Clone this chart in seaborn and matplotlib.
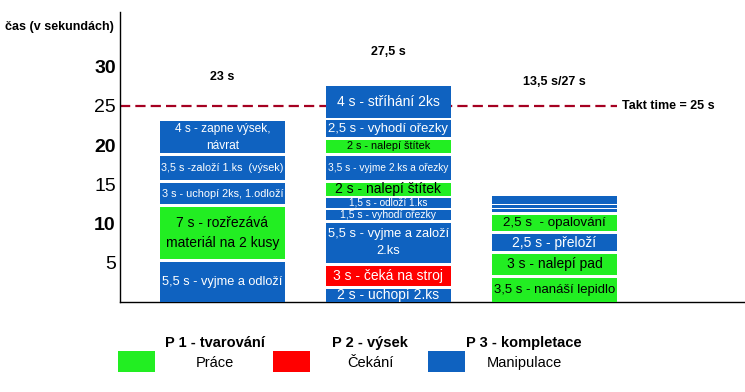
import seaborn as sns
import matplotlib.pyplot as plt
from matplotlib.patches import Rectangle

sns.set_theme(style='white')
plt.rcParams['font.family'] = ['Liberation Sans', 'DejaVu Sans']

# --- data ---
processes = ['P 1 - tvarování', 'P 2 - výsek', 'P 3 - kompletace']
totals = ['23 s', '27,5 s', '13,5 s/27 s']
takt_time = 25
kinds = ['Práce', 'Čekání', 'Manipulace']
y_ticks = [5, 10, 15, 20, 25, 30]

# blocks listed bottom -> top
p1_times = [5.5, 7, 3, 3.5, 4]
p1_kinds = ['Manipulace', 'Práce', 'Manipulace', 'Manipulace', 'Manipulace']
p1_labels = ['5,5 s - vyjme a odloží', '7 s - rozřezává\nmateriál na 2 kusy',
             '3 s - uchopí 2ks, 1.odloží', '3,5 s -založí 1.ks  (výsek)',
             '4 s - zapne výsek,\nnávrat']

p2_times = [2, 3, 5.5, 1.5, 1.5, 2, 3.5, 2, 2.5, 4]
p2_kinds = ['Manipulace', 'Čekání', 'Manipulace', 'Manipulace', 'Manipulace',
            'Práce', 'Manipulace', 'Práce', 'Manipulace', 'Manipulace']
p2_labels = ['2 s - uchopí 2.ks', '3 s - čeká na stroj', '5,5 s - vyjme a založí\n2.ks',
             '1,5 s - vyhodí ořezky', '1,5 s - odloží 1.ks', '2 s - nalepí štítek',
             '3,5 s - vyjme 2.ks a ořezky', '2 s - nalepí štítek', '2,5 s - vyhodí ořezky',
             '4 s - stříhání 2ks']

p3_times = [3.5, 3, 2.5, 2.5, 0.5, 0.5, 1]
p3_kinds = ['Práce', 'Práce', 'Manipulace', 'Práce', 'Manipulace', 'Manipulace', 'Manipulace']
p3_labels = ['3,5 s - nanáší lepidlo', '3 s - nalepí pad', '2,5 s - přeloží',
             '2,5 s  - opalování', '', '', '']

# --- styles ---
palette = {'Práce': '#22ee22', 'Čekání': '#ff0000', 'Manipulace': '#0f62c0'}
text_color = {'Práce': 'black', 'Čekání': 'white', 'Manipulace': 'white'}
p1_sizes = [10, 10, 9.5, 9.5, 8.6]
p2_sizes = [10, 10, 9.5, 7.5, 7.2, 10, 8, 7.8, 9.4, 10]
p3_sizes = [10, 10, 10, 9.6, 8, 8, 8]
total_y = [28.7, 31.8, 28.0]
bar_width = 0.753

fig = plt.figure(figsize=(7.45, 3.92), dpi=100)
ax = fig.add_axes([120 / 745, 90 / 392, 625 / 745, 290 / 392])
renderer = fig.canvas.get_renderer()
max_text_w = bar_width * 166 * 0.97


def draw_stack(x, times, kinds_, labels, sizes):
    cum = 0
    for i, (t, k, lbl, fs) in enumerate(zip(times, kinds_, labels, sizes)):
        gap = 0 if i == len(times) - 1 else min(0.4, max(0.13, 0.15 * t))
        h = t - gap
        ax.bar(x, h, bottom=cum, width=bar_width, color=palette[k],
               edgecolor='none', zorder=3)
        if lbl:
            txt = ax.text(x, cum + h / 2, lbl, ha='center', va='center', fontsize=fs,
                          color=text_color[k], linespacing=1.55, zorder=4)
            w = txt.get_window_extent(renderer).width
            if w > max_text_w:
                txt.set_fontsize(fs * max_text_w / w)
        cum += t


draw_stack(0, p1_times, p1_kinds, p1_labels, p1_sizes)
draw_stack(1, p2_times, p2_kinds, p2_labels, p2_sizes)
draw_stack(2, p3_times, p3_kinds, p3_labels, p3_sizes)

for i, lbl in enumerate(totals):
    ax.text(i, total_y[i], lbl, ha='center', va='center', fontsize=9, fontweight='bold',
            color='black')

# takt line
xmin, xmax = -0.617, 3.148
ax.plot([xmin, 2 + bar_width / 2], [takt_time, takt_time], color='#a50021', lw=1.6,
        dashes=(4.6, 2.3), zorder=2)
ax.text(2.407, takt_time, 'Takt time = 25 s', ha='left', va='center', fontsize=9,
        fontweight='bold', color='black')

ax.set_xlim(xmin, xmax)
ax.set_ylim(0, 290 / 7.85)
ax.set_xticks([])
ax.set_yticks(y_ticks, labels=[str(t) for t in y_ticks])
for lbl, t in zip(ax.get_yticklabels(), y_ticks):
    lbl.set_fontweight('bold' if t % 10 == 0 else 'normal')
    lbl.set_fontsize(14)
ax.tick_params(axis='y', length=0, pad=3, colors='black')
for side in ['top', 'right']:
    ax.spines[side].set_visible(False)
for side in ['left', 'bottom']:
    ax.spines[side].set_color('black')
    ax.spines[side].set_linewidth(1)

fig.text(5 / 745, 1 - 27 / 392, 'čas (v sekundách)', ha='left', va='center', fontsize=9,
         fontweight='bold', color='black')

# legend drawn by hand
patch_x = [118, 273, 428]
text_x = [215, 370, 524]
for px, tx, title, kind in zip(patch_x, text_x, processes, kinds):
    fig.add_artist(Rectangle((px / 745, 1 - 372 / 392), 37 / 745, 21 / 392,
                             transform=fig.transFigure, facecolor=palette[kind],
                             edgecolor='none'))
    fig.text(tx / 745, 1 - 343 / 392, title, ha='center', va='center', fontsize=10.5,
             fontweight='bold', color='black')
    fig.text(tx / 745, 1 - 363 / 392, kind, ha='center', va='center', fontsize=10.5,
             color='black')

fig.savefig('out.png', dpi=100)
